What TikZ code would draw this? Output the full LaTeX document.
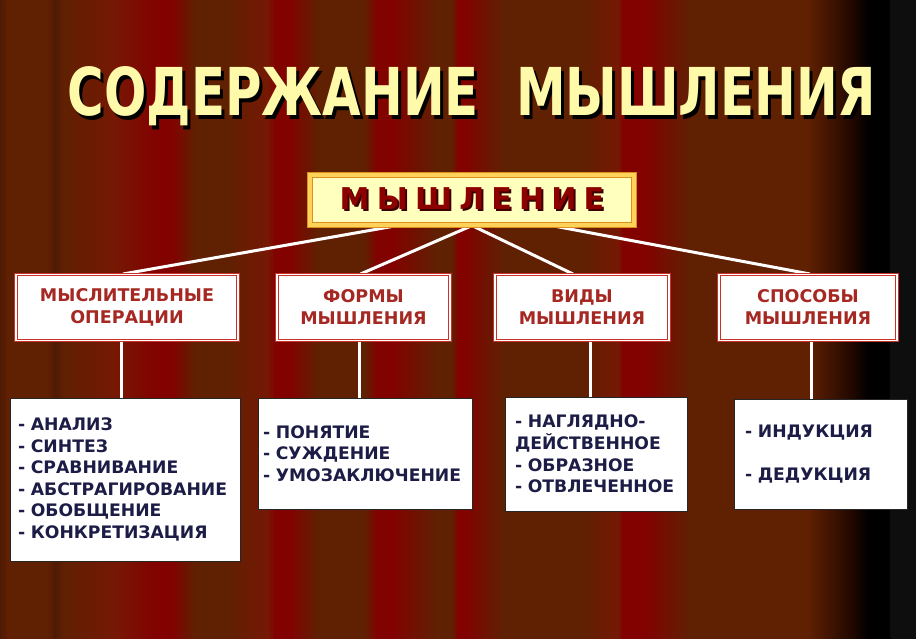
\documentclass[tikz,border=0pt]{standalone}
\usepackage{fontspec}
\usepackage{graphicx}
\usepackage{tikz}
\usetikzlibrary{calc}
\setmainfont{DejaVu Sans}
\newfontfamily\spacedfont[LetterSpace=24]{DejaVu Sans}
\hyphenpenalty=10000

\definecolor{bgbrown}{RGB}{96,32,2}
\definecolor{bgdark}{RGB}{78,26,4}
\definecolor{bgrust}{RGB}{118,24,4}
\definecolor{bgred}{RGB}{130,2,0}
\definecolor{bgnight}{RGB}{28,6,0}
\definecolor{bggray}{RGB}{14,14,14}
\definecolor{titletext}{RGB}{255,250,170}
\definecolor{headedge}{RGB}{225,140,30}
\definecolor{headband}{RGB}{255,210,90}
\definecolor{headfill}{RGB}{255,255,190}
\definecolor{headtext}{RGB}{140,0,0}
\definecolor{headshade}{RGB}{60,0,0}
\definecolor{groupedge}{RGB}{200,50,40}
\definecolor{grouptext}{RGB}{165,40,35}
\definecolor{listtext}{RGB}{28,28,70}

\newcommand{\withshadow}[3]{\rlap{\kern#1\raisebox{-#1}{\color{#2}#3}}#3}

\pgfdeclarelayer{back}
\pgfsetlayers{back,main}

\begin{document}
\begin{tikzpicture}[x=1pt,y=-1pt,
	headbox/.style={draw=headedge,line width=1.2pt,double=headband,double distance=4pt,fill=headfill,minimum width=324pt,minimum height=50pt,inner sep=0pt},
	groupbox/.style={draw=groupedge,line width=1pt,double=white,double distance=1.2pt,fill=white,minimum height=66pt,inner sep=0pt,align=center,text=grouptext,font=\fontsize{17.5}{22}\selectfont\bfseries},
	listbox/.style={draw=black!85,line width=0.8pt,fill=white,align=left,inner ysep=0pt,text=listtext,font=\fontsize{17.2}{21.6}\selectfont\bfseries},
	joinline/.style={draw=white,line width=3pt}]
	\useasboundingbox (0,0) rectangle (916,639);
	\begin{pgfonlayer}{back}
		\fill[bgbrown] (0,0) rectangle (916,639);
		\foreach \xa/\ca/\xb/\cb in {0/bgdark/8/bgbrown,8/bgbrown/48/bgbrown,48/bgbrown/55/bgdark,55/bgdark/64/bgbrown,64/bgbrown/115/bgrust,115/bgrust/155/bgred,155/bgred/172/bgred,172/bgred/195/bgbrown,195/bgbrown/227/bgbrown,227/bgbrown/268/bgrust,268/bgrust/275/bgred,275/bgred/290/bgred,290/bgred/318/bgbrown,318/bgbrown/365/bgbrown,365/bgbrown/377/bgred,377/bgred/393/bgred,393/bgred/436/bgbrown,436/bgbrown/452/bgbrown,452/bgbrown/458/bgred,458/bgred/465/bgred,465/bgred/502/bgbrown,502/bgbrown/583/bgbrown,583/bgbrown/618/bgrust,618/bgrust/623/bgred,623/bgred/645/bgred,645/bgred/690/bgbrown,690/bgbrown/808/bgbrown,808/bgbrown/855/bgnight,855/bgnight/868/black,868/black/891/black,891/bggray/916/bggray}
			\shade[left color=\ca,right color=\cb] (\xa-0.3,0) rectangle (\xb+0.3,639);
	\end{pgfonlayer}

	\node[anchor=base,text=titletext,font=\fontsize{66}{66}\selectfont\bfseries] (title) at (472,116) {\scalebox{0.755}[1]{\withshadow{4pt}{black}{СОДЕРЖАНИЕ\hspace{0.75em}МЫШЛЕНИЯ}}};

	\node[headbox,text=headtext,font=\spacedfont\bfseries\fontsize{30}{30}\selectfont] (top) at (472,200) {\withshadow{2pt}{headshade}{МЫШЛЕНИЕ}};

	\node[groupbox,minimum width=222pt] (ops) at (127,307.5) {МЫСЛИТЕЛЬНЫЕ\\ОПЕРАЦИИ};
	\node[groupbox,minimum width=173pt] (forms) at (363.5,307.5) {ФОРМЫ\\МЫШЛЕНИЯ};
	\node[groupbox,minimum width=174pt] (kinds) at (582,307.5) {ВИДЫ\\МЫШЛЕНИЯ};
	\node[groupbox,minimum width=178pt] (ways) at (808,307.5) {СПОСОБЫ\\МЫШЛЕНИЯ};

	\node[listbox,text width=214pt,inner xsep=8pt,minimum height=163pt] (analysis) at (125,479.5) {-~АНАЛИЗ\\-~СИНТЕЗ\\-~СРАВНИВАНИЕ\\-~АБСТРАГИРОВАНИЕ\\-~ОБОБЩЕНИЕ\\-~КОНКРЕТИЗАЦИЯ};
	\node[listbox,text width=204pt,inner xsep=5pt,minimum height=111pt] (concepts) at (365,453.5) {-~ПОНЯТИЕ\\-~СУЖДЕНИЕ\\-~УМОЗАКЛЮЧЕНИЕ};
	\node[listbox,text width=162pt,inner xsep=10pt,minimum height=114pt] (imagery) at (596,454) {-~НАГЛЯДНО-\\ДЕЙСТВЕННОЕ\\-~ОБРАЗНОЕ\\-~ОТВЛЕЧЕННОЕ};
	\node[listbox,text width=151pt,inner xsep=11pt,minimum height=110pt] (inference) at (820.5,454) {-~ИНДУКЦИЯ\\[21.6pt]-~ДЕДУКЦИЯ};

	\begin{pgfonlayer}{back}
		\draw[joinline] ($(top.south west)!0.27!(top.south east)$) -- ([xshift=-4pt]ops.north);
		\draw[joinline] (top.south) -- ([xshift=-3pt]forms.north);
		\draw[joinline] (top.south) -- ([xshift=-9pt]kinds.north);
		\draw[joinline] ($(top.south west)!0.745!(top.south east)$) -- ([xshift=2pt]ways.north);
		\draw[joinline] ([xshift=-6pt]ops.south) -- ([xshift=-6pt]ops.south |- analysis.north);
		\draw[joinline] ([xshift=-4pt]forms.south) -- ([xshift=-4pt]forms.south |- concepts.north);
		\draw[joinline] ([xshift=8pt]kinds.south) -- ([xshift=8pt]kinds.south |- imagery.north);
		\draw[joinline] ([xshift=3pt]ways.south) -- ([xshift=3pt]ways.south |- inference.north);
	\end{pgfonlayer}
\end{tikzpicture}
\end{document}
